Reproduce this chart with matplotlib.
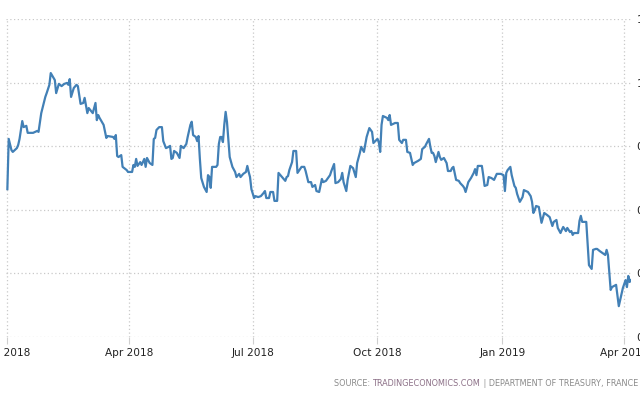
import matplotlib
matplotlib.use("Agg")
import matplotlib.pyplot as plt
import matplotlib.dates as mdates
import pandas as pd

dates = [
    # Jan 2018
    "2018-01-01", "2018-01-02", "2018-01-04", "2018-01-05", "2018-01-08", "2018-01-09", "2018-01-10",
    "2018-01-12", "2018-01-13", "2018-01-15", "2018-01-16", "2018-01-20", "2018-01-23", "2018-01-24",
    "2018-01-26", "2018-01-29", "2018-01-30",
    # Feb 2018
    "2018-02-01", "2018-02-02", "2018-02-05", "2018-02-06", "2018-02-08", "2018-02-10", "2018-02-12",
    "2018-02-14", "2018-02-15", "2018-02-16", "2018-02-17", "2018-02-19", "2018-02-21", "2018-02-22",
    "2018-02-24", "2018-02-26", "2018-02-27",
    # Mar 2018
    "2018-03-01", "2018-03-02", "2018-03-05", "2018-03-07", "2018-03-08", "2018-03-09", "2018-03-10",
    "2018-03-13", "2018-03-15", "2018-03-16", "2018-03-20", "2018-03-21", "2018-03-22", "2018-03-23",
    "2018-03-24", "2018-03-26", "2018-03-27", "2018-03-30", "2018-03-31",
    # Apr 2018
    "2018-04-03", "2018-04-04", "2018-04-05", "2018-04-06", "2018-04-07", "2018-04-09", "2018-04-10",
    "2018-04-12", "2018-04-13", "2018-04-14", "2018-04-16", "2018-04-18", "2018-04-19", "2018-04-20",
    "2018-04-21", "2018-04-23", "2018-04-25", "2018-04-26", "2018-04-28", "2018-04-30",
    # May 2018
    "2018-05-01", "2018-05-02", "2018-05-03", "2018-05-04", "2018-05-06", "2018-05-08", "2018-05-09",
    "2018-05-11", "2018-05-13", "2018-05-14", "2018-05-16", "2018-05-17", "2018-05-18", "2018-05-20",
    "2018-05-21", "2018-05-22", "2018-05-23", "2018-05-24", "2018-05-26", "2018-05-28", "2018-05-29",
    "2018-05-30", "2018-05-31",
    # Jun 2018
    "2018-06-01", "2018-06-04", "2018-06-05", "2018-06-06", "2018-06-07", "2018-06-08", "2018-06-09",
    "2018-06-10", "2018-06-11", "2018-06-12", "2018-06-14", "2018-06-16", "2018-06-18", "2018-06-19",
    "2018-06-21", "2018-06-22", "2018-06-24", "2018-06-26", "2018-06-27", "2018-06-28", "2018-06-29",
    "2018-06-30",
    # Jul 2018
    "2018-07-02", "2018-07-03", "2018-07-05", "2018-07-07", "2018-07-09", "2018-07-10", "2018-07-11",
    "2018-07-13", "2018-07-14", "2018-07-16", "2018-07-17", "2018-07-19", "2018-07-20", "2018-07-22",
    "2018-07-25", "2018-07-26", "2018-07-27", "2018-07-28", "2018-07-30", "2018-07-31",
    # Aug 2018
    "2018-08-02", "2018-08-03", "2018-08-06", "2018-08-08", "2018-08-09", "2018-08-11", "2018-08-13",
    "2018-08-14", "2018-08-16", "2018-08-17", "2018-08-19", "2018-08-21", "2018-08-22", "2018-08-24",
    "2018-08-27", "2018-08-28", "2018-08-30", "2018-08-31",
    # Sep 2018
    "2018-09-02", "2018-09-04", "2018-09-05", "2018-09-06", "2018-09-08", "2018-09-09", "2018-09-11",
    "2018-09-13", "2018-09-15", "2018-09-16", "2018-09-18", "2018-09-19", "2018-09-21", "2018-09-23",
    "2018-09-25", "2018-09-27", "2018-09-28",
    # Oct 2018
    "2018-10-01", "2018-10-02", "2018-10-03", "2018-10-04", "2018-10-05", "2018-10-08", "2018-10-09",
    "2018-10-10", "2018-10-11", "2018-10-14", "2018-10-16", "2018-10-17", "2018-10-19", "2018-10-20",
    "2018-10-22", "2018-10-23", "2018-10-25", "2018-10-27", "2018-10-28", "2018-10-31",
    # Nov 2018
    "2018-11-02", "2018-11-03", "2018-11-05", "2018-11-06", "2018-11-08", "2018-11-09", "2018-11-10",
    "2018-11-11", "2018-11-12", "2018-11-13", "2018-11-15", "2018-11-16", "2018-11-17", "2018-11-19",
    "2018-11-21", "2018-11-22", "2018-11-24", "2018-11-25", "2018-11-26", "2018-11-28", "2018-11-30",
    # Dec 2018
    "2018-12-01", "2018-12-03", "2018-12-04", "2018-12-05", "2018-12-07", "2018-12-09", "2018-12-11",
    "2018-12-12", "2018-12-13", "2018-12-14", "2018-12-17", "2018-12-18", "2018-12-19", "2018-12-21",
    "2018-12-22", "2018-12-24", "2018-12-26", "2018-12-28", "2018-12-31",
    # Jan 2019
    "2019-01-02", "2019-01-03", "2019-01-04", "2019-01-05", "2019-01-07", "2019-01-08", "2019-01-10",
    "2019-01-11", "2019-01-12", "2019-01-14", "2019-01-16", "2019-01-17", "2019-01-20", "2019-01-22",
    "2019-01-23", "2019-01-24", "2019-01-25", "2019-01-26", "2019-01-28", "2019-01-30",
    # Feb 2019
    "2019-02-01", "2019-02-03", "2019-02-05", "2019-02-07", "2019-02-08", "2019-02-10", "2019-02-11",
    "2019-02-13", "2019-02-14", "2019-02-15", "2019-02-17", "2019-02-18", "2019-02-20", "2019-02-21",
    "2019-02-22", "2019-02-23", "2019-02-26", "2019-02-27", "2019-02-28",
    # Mar 2019
    "2019-03-01", "2019-03-04", "2019-03-05", "2019-03-06", "2019-03-08", "2019-03-09", "2019-03-11",
    "2019-03-12", "2019-03-14", "2019-03-16", "2019-03-18", "2019-03-19", "2019-03-20", "2019-03-22",
    "2019-03-23", "2019-03-26", "2019-03-28", "2019-03-29", "2019-03-31",
    # Apr 2019
    "2019-04-02", "2019-04-03", "2019-04-04", "2019-04-05", "2019-04-06",
]

values = [
    # Jan 2018
    0.665, 0.823, 0.788, 0.782, 0.794, 0.804, 0.823,
    0.879, 0.860, 0.864, 0.842, 0.842, 0.848, 0.845,
    0.904, 0.955, 0.967,
    # Feb 2018
    0.993, 1.030, 1.008, 0.967, 0.996, 0.989, 0.996,
    0.999, 0.993, 1.011, 0.955, 0.983, 0.993, 0.989,
    0.933, 0.936, 0.952,
    # Mar 2018
    0.904, 0.920, 0.904, 0.936, 0.882, 0.898, 0.889,
    0.867, 0.826, 0.832, 0.829, 0.823, 0.835, 0.769,
    0.766, 0.772, 0.735, 0.725, 0.719,
    # Apr 2018
    0.719, 0.741, 0.735, 0.760, 0.738, 0.750, 0.741,
    0.760, 0.735, 0.763, 0.747, 0.741, 0.823, 0.826,
    0.851, 0.860, 0.860, 0.816, 0.794, 0.798,
    # May 2018
    0.801, 0.760, 0.763, 0.785, 0.779, 0.763, 0.801,
    0.794, 0.807, 0.829, 0.867, 0.877, 0.835, 0.829,
    0.816, 0.832, 0.760, 0.700, 0.672, 0.656, 0.709,
    0.703, 0.669,
    # Jun 2018
    0.735, 0.735, 0.741, 0.807, 0.829, 0.829, 0.813,
    0.867, 0.908, 0.876, 0.766, 0.735, 0.719, 0.703,
    0.713, 0.703, 0.713, 0.719, 0.738, 0.719, 0.703,
    0.665,
    # Jul 2018
    0.637, 0.643, 0.640, 0.643, 0.653, 0.659, 0.637,
    0.637, 0.656, 0.656, 0.628, 0.628, 0.716, 0.706,
    0.691, 0.703, 0.706, 0.725, 0.750, 0.785,
    # Aug 2018
    0.785, 0.716, 0.735, 0.735, 0.722, 0.687, 0.687,
    0.672, 0.678, 0.659, 0.656, 0.697, 0.687, 0.691,
    0.709, 0.722, 0.744, 0.684,
    # Sep 2018
    0.687, 0.697, 0.716, 0.687, 0.659, 0.694, 0.738,
    0.731, 0.703, 0.747, 0.779, 0.798, 0.782, 0.829,
    0.857, 0.845, 0.810,
    # Oct 2018
    0.823, 0.813, 0.782, 0.867, 0.895, 0.889, 0.882,
    0.898, 0.867, 0.873, 0.873, 0.820, 0.810, 0.820,
    0.820, 0.782, 0.779, 0.741, 0.747, 0.754,
    # Nov 2018
    0.760, 0.791, 0.798, 0.807, 0.823, 0.798, 0.779,
    0.779, 0.769, 0.750, 0.782, 0.766, 0.757, 0.763,
    0.747, 0.722, 0.722, 0.731, 0.735, 0.694, 0.691,
    # Dec 2018
    0.684, 0.675, 0.669, 0.656, 0.687, 0.700, 0.716,
    0.728, 0.709, 0.738, 0.738, 0.709, 0.675, 0.678,
    0.703, 0.700, 0.694, 0.713, 0.713,
    # Jan 2019
    0.709, 0.659, 0.716, 0.725, 0.735, 0.709, 0.675,
    0.669, 0.650, 0.625, 0.640, 0.662, 0.656, 0.643,
    0.625, 0.590, 0.599, 0.612, 0.609, 0.559,
    # Feb 2019
    0.590, 0.584, 0.577, 0.549, 0.562, 0.568, 0.543,
    0.527, 0.537, 0.546, 0.533, 0.543, 0.530, 0.533,
    0.521, 0.527, 0.527, 0.565, 0.581,
    # Mar 2019
    0.562, 0.562, 0.496, 0.426, 0.414, 0.474, 0.477,
    0.477, 0.470, 0.464, 0.458, 0.474, 0.458, 0.348,
    0.357, 0.364, 0.297, 0.316, 0.354,
    # Apr 2019
    0.379, 0.357, 0.392, 0.373, 0.379,
]

x_ticks = ["2018-01-01", "2018-04-01", "2018-07-01", "2018-10-01", "2019-01-01", "2019-04-01"]
x_labels = ["Jan 2018", "Apr 2018", "Jul 2018", "Oct 2018", "Jan 2019", "Apr 2019"]
y_ticks = [0.2, 0.4, 0.6, 0.8, 1.0, 1.2]
y_labels = ["0.2", "0.4", "0.6", "0.8", "1.0", "1.2"]

x = pd.to_datetime(dates)

fig = plt.figure(figsize=(6.4, 3.94), dpi=100)
fig.patch.set_facecolor("white")
ax = fig.add_axes([6 / 640, (394 - 337) / 394, (631 - 6) / 640, (337 - 19) / 394])

ax.plot(x, values, color="#4280b6", linewidth=1.6, solid_joinstyle="round", zorder=3)

ax.set_xlim(pd.Timestamp("2017-12-31"), pd.Timestamp("2019-04-06"))
ax.set_ylim(0.2, 1.2)

ax.set_xticks(pd.to_datetime(x_ticks))
ax.set_xticklabels(x_labels)
ax.set_yticks(y_ticks)
ax.set_yticklabels(y_labels)

ax.yaxis.tick_right()
for s in ax.spines.values():
    s.set_visible(False)

grid_kw = dict(color="#c9c9c9", linestyle=(0, (1, 2)), linewidth=0.9)
ax.grid(True, **grid_kw)
ax.tick_params(axis="y", length=0, pad=4, labelsize=8, labelcolor="#222222")
ax.tick_params(axis="x", length=5, width=0.8, color="#cfcfcf", pad=3,
               labelsize=7.6, labelcolor="#222222")
ax.set_axisbelow(True)

# Source line
fig.canvas.draw()
r = fig.canvas.get_renderer()
parts = [("SOURCE: ", "#8a8a8a"), ("TRADINGECONOMICS.COM", "#8b6f86"),
         (" | DEPARTMENT OF TREASURY, FRANCE", "#8a8a8a")]
fs = 5.9
texts = []
for s, c in parts:
    texts.append(fig.text(0, 383 / 394 * 0 + (394 - 383) / 394, s, color=c, fontsize=fs,
                          va="center", ha="left"))
widths = [t.get_window_extent(r).width for t in texts]
right = 638
xpos = right - sum(widths)
for t, w in zip(texts, widths):
    t.set_x(xpos / 640)
    xpos += w

fig.savefig("out.png", dpi=100, facecolor="white")
